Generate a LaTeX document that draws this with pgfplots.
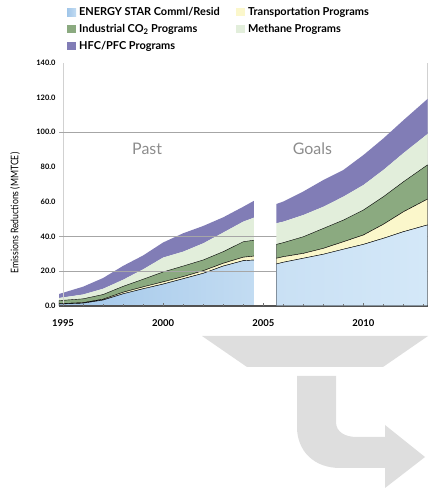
\documentclass[border=0pt]{standalone}
\usepackage{fontspec}
\setmainfont{Lato}
\newfontfamily\narrowlato[FakeStretch=0.83]{Lato}
\usepackage{pgfplots}
\pgfplotsset{compat=1.18}

\definecolor{esLeft}{HTML}{A1C6E9}
\definecolor{esMid}{HTML}{C3DCF2}
\definecolor{esMid2}{HTML}{C9E0F4}
\definecolor{esRight}{HTML}{D4E8F8}
\definecolor{transp}{HTML}{FBF7CB}
\definecolor{indco}{HTML}{8BAA80}
\definecolor{methane}{HTML}{E2EEDB}
\definecolor{hfc}{HTML}{817DB6}
\definecolor{arrowgray}{HTML}{DEDEDE}
\definecolor{gridgray}{HTML}{A6A6A6}
\definecolor{notegray}{HTML}{8C8C8C}

\pgfplotsset{
  emissions frame/.style={
    scale only axis,
    width=368.5bp, height=242.9bp,
    at={(59bp,185.2bp)}, anchor=south west,
    xmin=1994.8, xmax=2013.2, ymin=0, ymax=140,
    stack plots=y,
    clip=false,
    axis line style={draw=none},
  }
}

\begin{document}
\begin{tikzpicture}
\path[use as bounding box] (0,0) rectangle (430bp,491bp);

% large grey arrow below the chart
\fill[arrowgray] (202bp,155bp) -- (428bp,155bp) -- (383bp,124bp) -- (247bp,124bp) -- cycle;
\fill[arrowgray] (297bp,115bp) -- (336bp,115bp) -- (336bp,69bp)
  .. controls (336bp,59bp) and (345bp,54bp) .. (357bp,54bp)
  -- (385bp,54bp) -- (385bp,66bp) -- (425bp,34bp) -- (385bp,3bp) -- (385bp,23bp)
  -- (340bp,23bp) .. controls (314bp,23bp) and (297bp,40bp) .. (297bp,64bp) -- cycle;

% past reductions
\begin{axis}[emissions frame,
  /pgf/number format/assume math mode=true,
  xtick={1995,2000,2005,2010},
  ytick={0,20,...,140},
  tick style={draw=none},
  xticklabel style={font=\bfseries\fontsize{9.5}{10}\selectfont, yshift=-10bp,
    /pgf/number format/1000 sep={}},
  yticklabel style={font=\bfseries\fontsize{7.5}{9}\selectfont,
    /pgf/number format/.cd, fixed, fixed zerofill, precision=1},
  ylabel={Emissions Reductions (MMTCE)},
  ylabel style={at={(axis description cs:-0.119,0.382)}, anchor=center,
    font=\narrowlato\fontsize{10.5}{12}\selectfont},
  legend columns=2,
  legend style={at={(axis description cs:0.0217,1.2425)}, anchor=north west,
    draw=none, fill=none, inner sep=0pt, column sep=0pt,
    nodes={inner xsep=3bp, inner ysep=3bp, text height=8.5bp, text depth=2.5bp},
    font=\bfseries\fontsize{11}{13}\selectfont},
  legend cell align=left,
  legend image code/.code={\path[#1,draw=none] (0bp,-3.5bp) rectangle (9bp,4.5bp);},
]
\draw[black!18, line width=0.6bp] (axis cs:1995,0) -- (axis cs:1995,140);
\draw[black!18, line width=0.6bp] (axis cs:2013.2,0) -- (axis cs:2013.2,140);

\addplot[draw=black, line width=0.4bp, left color=esLeft, right color=esMid] coordinates {
  (1994.8,1.0) (1996,1.5) (1997,3.3) (1998,6.9) (1999,9.8) (2000,12.5)
  (2001,15.6) (2002,18.7) (2003,22.9) (2004,26.0) (2004.58,26.4)} \closedcycle;
\addlegendentry{\makebox[154bp][l]{ENERGY STAR Comml/Resid}}
\addplot[draw=black, line width=0.4bp, fill=transp] coordinates {
  (1994.8,0.2) (1996,0.3) (1997,0.5) (1998,0.9) (1999,1.1) (2000,1.3)
  (2001,1.2) (2002,1.5) (2003,1.6) (2004,2.0) (2004.58,2.3)} \closedcycle;
\addlegendentry{Transportation Programs}
\addplot[draw=black, line width=0.4bp, fill=indco] coordinates {
  (1994.8,1.8) (1996,2.2) (1997,2.7) (1998,3.4) (1999,4.4) (2000,5.7)
  (2001,6.1) (2002,6.2) (2003,6.7) (2004,8.9) (2004.58,9.2)} \closedcycle;
\addlegendentry{\makebox[154bp][l]{Industrial CO\textsubscript{2} Programs}}
\addplot[draw=none, fill=methane] coordinates {
  (1994.8,1.5) (1996,2.5) (1997,3.3) (1998,3.8) (1999,5.7) (2000,8.3)
  (2001,8.3) (2002,9.6) (2003,11.0) (2004,11.6) (2004.58,13.1)} \closedcycle;
\addlegendentry{Methane Programs}
\addplot[draw=none, fill=hfc] coordinates {
  (1994.8,2.3) (1996,4.5) (1997,6.2) (1998,8.0) (1999,8.0) (2000,8.7)
  (2001,10.6) (2002,10.0) (2003,8.8) (2004,8.6) (2004.58,9.8)} \closedcycle;
\addlegendentry{\makebox[154bp][l]{HFC/PFC Programs}}

\node[font=\fontsize{16}{18}\selectfont, text=notegray] at (axis cs:1999.2,90.4) {Past};
\end{axis}

% goals
\begin{axis}[emissions frame,
  axis on top,
  xtick={1995,2000,2005,2010},
  minor xtick={1996,...,2013},
  xticklabels={}, ytick=\empty,
  xtick pos=left, tick align=inside,
  major tick length=3bp, minor tick length=2bp,
  tick style={black!55, line width=0.5bp},
]
\addplot[draw=black, line width=0.4bp, left color=esMid2, right color=esRight] coordinates {
  (2005.66,24.1) (2006,25.1) (2007,27.4) (2008,29.7) (2009,32.6) (2010,35.4)
  (2011,38.9) (2012,42.7) (2013.2,46.6)} \closedcycle;
\addplot[draw=black, line width=0.4bp, fill=transp] coordinates {
  (2005.66,3.3) (2006,3.2) (2007,2.8) (2008,3.4) (2009,4.3) (2010,5.4)
  (2011,8.1) (2012,11.5) (2013.2,14.9)} \closedcycle;
\addplot[draw=black, line width=0.4bp, fill=indco] coordinates {
  (2005.66,8.0) (2006,8.1) (2007,9.6) (2008,11.5) (2009,12.5) (2010,14.4)
  (2011,15.9) (2012,17.3) (2013.2,19.7)} \closedcycle;
\addplot[draw=none, fill=methane] coordinates {
  (2005.66,12.2) (2006,12.1) (2007,12.5) (2008,12.5) (2009,13.5) (2010,14.4)
  (2011,15.4) (2012,16.5) (2013.2,17.8)} \closedcycle;
\addplot[draw=none, fill=hfc] coordinates {
  (2005.66,11.1) (2006,11.6) (2007,13.6) (2008,15.4) (2009,15.4) (2010,17.3)
  (2011,18.2) (2012,19.0) (2013.2,20.2)} \closedcycle;

\node[font=\fontsize{16}{18}\selectfont, text=notegray] at (axis cs:2007.45,90.8) {Goals};

% grid lines drawn over the areas, then the break between past and goals
\draw[gridgray, line width=0.6bp] (axis cs:1994.8,20) -- (axis cs:2013.2,20);
\draw[gridgray, line width=0.6bp] (axis cs:1994.8,40) -- (axis cs:2013.2,40);
\draw[gridgray, line width=0.6bp] (axis cs:1994.8,100) -- (axis cs:2013.2,100);
\fill[white] (axis cs:2004.56,0.6) rectangle (axis cs:2005.68,62);
\draw[black!68, line width=1.7bp] (axis cs:1994.8,0) -- (axis cs:2013.2,0);
\end{axis}
\end{tikzpicture}
\end{document}
